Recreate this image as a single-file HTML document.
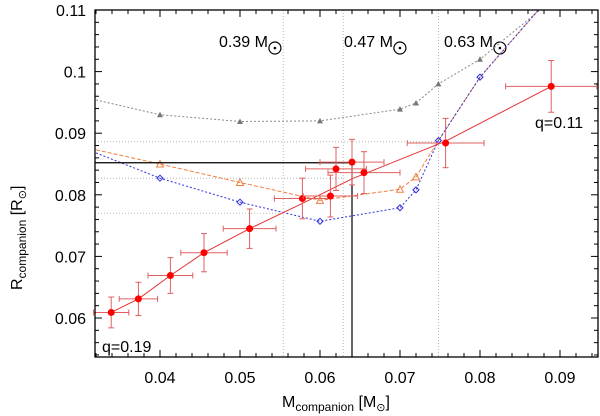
<!DOCTYPE html>
<html><head><meta charset="utf-8"><style>
body{margin:0;background:#fff}
svg{display:block;font-family:"Liberation Sans",sans-serif}
</style></head><body>
<svg id="c" width="600" height="416"></svg>
<script>
const xTicks=[0.04,0.05,0.06,0.07,0.08,0.09];
const yTicks=[0.06,0.07,0.08,0.09,0.1,0.11];
const yTickLabels=["0.06","0.07","0.08","0.09","0.1","0.11"];
const obsM=[0.0339,0.0373,0.0413,0.0455,0.0512,0.0578,0.0613,0.0620,0.0640,0.0655,0.0757,0.0889];
const obsR=[0.0609,0.0631,0.0669,0.0706,0.0745,0.0794,0.0798,0.0842,0.0853,0.0836,0.0884,0.0976];
const obsMerr=[0.0022,0.0024,0.0028,0.0029,0.0033,0.0035,0.0034,0.0038,0.0040,0.0045,0.0048,0.0057];
const obsRerr=[0.0025,0.0027,0.0029,0.0031,0.0032,0.0033,0.0034,0.0035,0.0037,0.0034,0.0040,0.0042];
const fitM=[0.0339,0.0373,0.0413,0.0455,0.0512,0.0578,0.0640,0.0757,0.0889];
const fitR=[0.0609,0.0631,0.0669,0.0706,0.0745,0.0786,0.0826,0.0887,0.0976];
const grayM=[0.032,0.04,0.05,0.06,0.07,0.072,0.0748,0.08,0.0875];
const grayR=[0.0954,0.093,0.0919,0.092,0.0939,0.0949,0.098,0.102,0.11];
const grayMk=[0.04,0.05,0.06,0.07,0.072,0.0748,0.08];
const grayRk=[0.093,0.0919,0.092,0.0939,0.0949,0.098,0.102];
const orM=[0.032,0.04,0.05,0.06,0.07,0.072,0.0748,0.08,0.0873];
const orR=[0.0873,0.085,0.082,0.0791,0.0809,0.0829,0.0888,0.0991,0.11];
const orMk=[0.04,0.05,0.06,0.07,0.072];
const orRk=[0.085,0.082,0.0791,0.0809,0.0829];
const blM=[0.032,0.04,0.05,0.06,0.07,0.072,0.0748,0.08,0.0873];
const blR=[0.0868,0.0827,0.0788,0.0757,0.0779,0.0808,0.0888,0.0991,0.11];
const blMk=[0.04,0.05,0.06,0.07,0.072,0.0748,0.08];
const blRk=[0.0827,0.0788,0.0757,0.0779,0.0808,0.0888,0.0991];
const wdMass=["0.39","0.47","0.63"];
const wdX=[0.0554,0.0629,0.0748];
const hLevels=[0.0886,0.0827,0.077];
const hEnds=[0.0748,0.0629,0.0554];
const selM=0.064, selR=0.0852;

const L=95,R=598,T=10,B=357;
const X=v=>160+(v-0.04)*8000;
const Y=v=>10+(0.11-v)*6160;
const svg=document.getElementById('c');
const NS='http://www.w3.org/2000/svg';
function mk(t,a,p){const e=document.createElementNS(NS,t);for(const k in a)e.setAttribute(k,a[k]);(p||svg).appendChild(e);return e;}

wdX.forEach((m,i)=>{
 const l=mk('line',{x1:X(m),x2:X(m),y1:T,y2:B,stroke:'#aaa','stroke-width':0.8,'stroke-dasharray':'1,2'});
 
 
});
hLevels.forEach((r,i)=>{
 const l=mk('line',{x1:L,x2:X(hEnds[i]),y1:Y(r),y2:Y(r),stroke:'#aaa','stroke-width':0.8,'stroke-dasharray':'1,2'});
 
 
});
const lbx=[219,344,444];
wdX.forEach((m,i)=>{
 const g=mk('text',{x:lbx[i],y:47,'font-size':16,fill:'#000'});
 g.textContent=wdMass[i]+' M';
 
 
 const tx=lbx[i]+g.getComputedTextLength()+7;
 mk('circle',{cx:tx,cy:48,r:6,fill:'none',stroke:'#000','stroke-width':1.2});
 mk('circle',{cx:tx,cy:48,r:1.3,fill:'#000'});
});
function path(ms,rs,st,name){
 const d=ms.map((m,i)=>(i?'L':'M')+X(m)+','+Y(rs[i])).join(' ');
 const p=mk('path',Object.assign({d:d,fill:'none'},st));
 
 
}
const clip=mk('clipPath',{id:'cl'});mk('rect',{x:L,y:T,width:R-L,height:B-T},clip);
const gC=mk('g',{'clip-path':'url(#cl)'});
function pathC(ms,rs,st,name){
 const d=ms.map((m,i)=>(i?'L':'M')+X(m)+','+Y(rs[i])).join(' ');
 const p=mk('path',Object.assign({d:d,fill:'none'},st),gC);
 
 
}
pathC(grayM,grayR,{stroke:'#888','stroke-width':1,'stroke-dasharray':'2,2'},'gray-model-curve');
pathC(orM,orR,{stroke:'#f08040','stroke-width':1,'stroke-dasharray':'4,2'},'orange-model-curve');
pathC(blM,blR,{stroke:'#3030e0','stroke-width':1,'stroke-dasharray':'2,2'},'blue-model-curve');
grayMk.forEach((m,i)=>{const x=X(m),y=Y(grayRk[i]);
 const p=mk('path',{d:`M${x-3},${y+2.5}L${x+3},${y+2.5}L${x},${y-3}Z`,fill:'#777'});
 });
orMk.forEach((m,i)=>{const x=X(m),y=Y(orRk[i]);
 const p=mk('path',{d:`M${x-3.5},${y+3}L${x+3.5},${y+3}L${x},${y-3.5}Z`,fill:'none',stroke:'#f08040'});
 });
blMk.forEach((m,i)=>{const x=X(m),y=Y(blRk[i]);
 const p=mk('path',{d:`M${x-3},${y}L${x},${y-3}L${x+3},${y}L${x},${y+3}Z`,fill:'none',stroke:'#3030e0'});
 });
const s1=mk('path',{d:`M${L},${Y(selR)}L${X(selM)},${Y(selR)}L${X(selM)},${B}`,fill:'none',stroke:'#000','stroke-width':1.2});


path(fitM,fitR,{stroke:'#e83030','stroke-width':1},'fit-line');
obsM.forEach((m,i)=>{
 const g=mk('g',{stroke:'#e06060','stroke-width':1});
 
 
 const x=X(m),y=Y(obsR[i]),x1=X(m-obsMerr[i]),x2=Math.min(R,X(m+obsMerr[i])),y1=Y(obsR[i]+obsRerr[i]),y2=Y(obsR[i]-obsRerr[i]);
 mk('line',{x1:x1,x2:x2,y1:y,y2:y},g);mk('line',{x1:x,x2:x,y1:y1,y2:y2},g);
 mk('line',{x1:x1,x2:x1,y1:y-3,y2:y+3},g);mk('line',{x1:x2,x2:x2,y1:y-3,y2:y+3},g);
 mk('line',{x1:x-3,x2:x+3,y1:y1,y2:y1},g);mk('line',{x1:x-3,x2:x+3,y1:y2,y2:y2},g);
 mk('circle',{cx:x,cy:y,r:3.5,fill:'#f00',stroke:'none'},g);
});
const f=mk('rect',{x:L,y:T,width:R-L,height:B-T,fill:'none',stroke:'#000','stroke-width':1.3});

for(let v=0.032;v<=0.0951;v+=0.002){const x=X(v);const maj=Math.abs(Math.round(v*100)-v*100)<1e-6;const h=maj?7:4;
 mk('line',{x1:x,x2:x,y1:B,y2:B-h,stroke:'#000'});mk('line',{x1:x,x2:x,y1:T,y2:T+h,stroke:'#000'});}
for(let v=0.054;v<=0.1101;v+=0.002){const y=Y(v);const maj=Math.abs(Math.round(v*100)-v*100)<1e-6;const h=maj?7:4;
 mk('line',{x1:L,x2:L+h,y1:y,y2:y,stroke:'#000'});mk('line',{x1:R,x2:R-h,y1:y,y2:y,stroke:'#000'});}
xTicks.forEach(v=>{const t=mk('text',{x:X(v),y:383,'font-size':16,'text-anchor':'middle'});t.textContent=v.toFixed(2);
 });
yTicks.forEach((v,i)=>{const t=mk('text',{x:86,y:Y(v)+6,'font-size':16,'text-anchor':'end'});t.textContent=yTickLabels[i];
 });
let q=mk('text',{x:102,y:352,'font-size':16});q.textContent='q=0.19';
q=mk('text',{x:535,y:128,'font-size':16});q.textContent='q=0.11';
const xt=mk('text',{x:282,y:407,'font-size':16});
xt.innerHTML='M<tspan font-size="12" dy="4">companion</tspan><tspan dy="-4"> [M</tspan><tspan font-size="11" dy="4">⊙</tspan><tspan dy="-4">]</tspan>';

const yt=mk('text',{x:0,y:0,'font-size':16,transform:'translate(22,290) rotate(-90)'});
yt.innerHTML='R<tspan font-size="12" dy="4">companion</tspan><tspan dy="-4"> [R</tspan><tspan font-size="11" dy="4">⊙</tspan><tspan dy="-4">]</tspan>';

</script>
</body></html>
